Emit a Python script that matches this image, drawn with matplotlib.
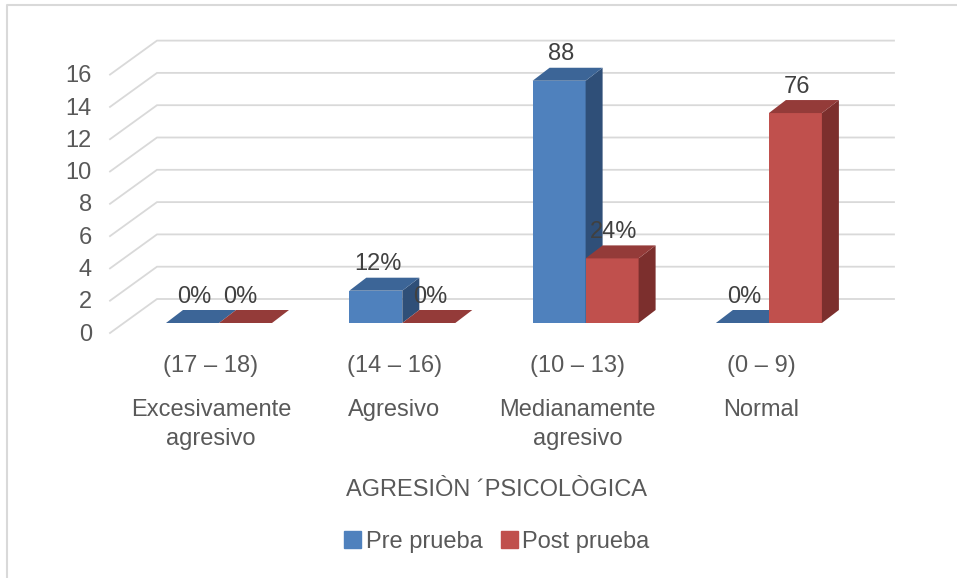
import matplotlib
matplotlib.use("Agg")
import matplotlib.pyplot as plt
from matplotlib.patches import Polygon, Patch
from matplotlib.lines import Line2D

plt.rcParams['font.family'] = ['Liberation Sans', 'DejaVu Sans']

# data
rangos = ["(17 – 18)", "(14 – 16)", "(10 – 13)", "(0 – 9)"]
niveles = ["Excesivamente\nagresivo", "Agresivo", "Medianamente\nagresivo", "Normal"]
pre_prueba = [0, 2, 15, 0]
post_prueba = [0, 0, 4, 13]
pre_etiquetas = ["0%", "12%", "88", "0%"]
post_etiquetas = ["0%", "0%", "24%", "76"]
y_ticks = [0, 2, 4, 6, 8, 10, 12, 14, 16]
titulo_x = "AGRESIÒN ´PSICOLÒGICA"
series = ["Pre prueba", "Post prueba"]

W, H = 957, 578
# pixel <-> data mapping (category centre 0 at px 219, 183.3 px per category; 16.15 px per unit)
X0, SX = 219.0, 183.3
Y0, SY = 323.0, 16.15

BLUE = ("#4F81BD", "#3C6597", "#2F4F78")
RED = ("#C0504D", "#943B39", "#7C2F2D")
GRID = "#D9D9D9"
TXT = "#595959"
LAB = "#404040"
FS = 17

bw = 53 / SX            # bar width
ddx, ddy = 17 / SX, 13 / SY   # bar depth offset
wall_f = ((110 - X0) / SX, -10 / SY)   # front edge of side wall (x, y-offset)
wall_b = ((157 - X0) / SX, 24 / SY)    # back wall left
wall_r = (894 - X0) / SX               # back wall right

fig = plt.figure(figsize=(W / 100, H / 100), dpi=100)
ax = fig.add_axes([0, 0, 1, 1])
ax.set_xlim((0 - X0) / SX, (W - X0) / SX)
ax.set_ylim((Y0 - H) / SY, Y0 / SY)
ax.axis("off")

# gridlines: side wall diagonal + back wall horizontal
for v in y_ticks:
    ax.plot([wall_f[0], wall_b[0], wall_r], [v + wall_f[1], v + wall_b[1], v + wall_b[1]],
            color=GRID, lw=1.3, solid_joinstyle="miter", zorder=1)
    ax.text((92 - X0) / SX, v + wall_f[1] - 0.1, str(v), ha="right", va="center",
            fontsize=FS, color=TXT)


def bar3d(x0, h, cols):
    ax.bar(x0, h, width=bw, align="edge", color=cols[0], edgecolor="none", zorder=3)
    top = [(x0, h), (x0 + bw, h), (x0 + bw + ddx, h + ddy), (x0 + ddx, h + ddy)]
    side = [(x0 + bw, 0), (x0 + bw + ddx, ddy), (x0 + bw + ddx, h + ddy), (x0 + bw, h)]
    ax.add_patch(Polygon(side, closed=True, fc=cols[2], ec="none", zorder=3))
    ax.add_patch(Polygon(top, closed=True, fc=cols[1], ec="none", zorder=3))


for i in range(len(rangos)):
    bar3d(i - bw, pre_prueba[i], BLUE)
    bar3d(i, post_prueba[i], RED)
    ax.text(i - bw / 2 + 0.01, pre_prueba[i] + ddy + 0.15, pre_etiquetas[i],
            ha="center", va="bottom", fontsize=FS, color=LAB, zorder=5)
    # first group's post label sits closer, as in the source
    dx_lab = -0.03 if i == 0 else 0.01
    ax.text(i + bw / 2 + dx_lab, post_prueba[i] + ddy + 0.15, post_etiquetas[i],
            ha="center", va="bottom", fontsize=FS, color=LAB, zorder=5)

# category labels
for i in range(len(rangos)):
    xc = (X0 + SX * i - 8) / W
    fig.text(xc, 1 - 366 / H, rangos[i], ha="center", va="center", fontsize=FS, color=TXT)
    fig.text(xc, 1 - 399 / H, niveles[i], ha="center", va="top", fontsize=FS,
             color=TXT, linespacing=1.4)

fig.text(497 / W, 1 - 490 / H, titulo_x, ha="center", va="center", fontsize=FS, color=TXT)

handles = [Patch(color=BLUE[0]), Patch(color=RED[0])]
fig.legend(handles, series, loc="center", bbox_to_anchor=(497 / W, 1 - 542 / H), ncol=2,
           frameon=False, fontsize=FS, labelcolor=TXT, handlelength=0.7, handleheight=0.7,
           handletextpad=0.2, columnspacing=0.8)

# chart area border (top and left visible)
fig.add_artist(Line2D([7 / W, 7 / W, 1], [0, 1 - 5 / H, 1 - 5 / H], color=GRID, lw=1.5))

fig.savefig("out.png", dpi=100)
